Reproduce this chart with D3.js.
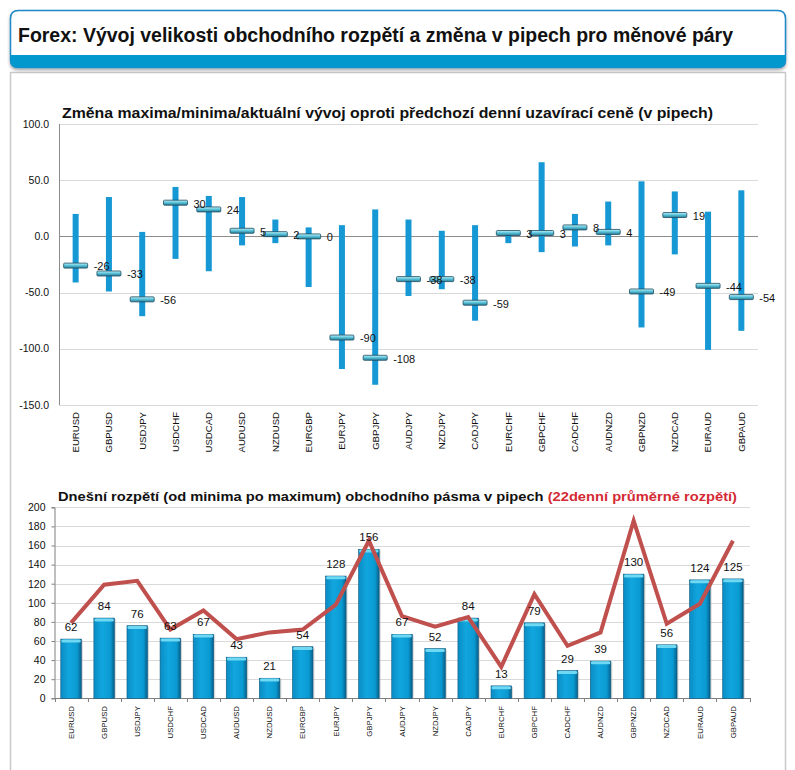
<!DOCTYPE html>
<html><head><meta charset="utf-8">
<script src="https://cdn.jsdelivr.net/npm/d3@7"></script>
<style>
body{margin:0;background:#fff;}
svg{display:block;font-family:"Liberation Sans",Arial,sans-serif;}
</style></head>
<body><svg id="c" width="795" height="770"></svg>
<script>
const pairs = ["EURUSD","GBPUSD","USDJPY","USDCHF","USDCAD","AUDUSD","NZDUSD","EURGBP","EURJPY","GBPJPY","AUDJPY","NZDJPY","CADJPY","EURCHF","GBPCHF","CADCHF","AUDNZD","GBPNZD","NZDCAD","EURAUD","GBPAUD"];
const changeMax = [20,35,4,44,36,35,15,8,10,24,15,5,10,5,66,20,31,49,40,22,41];
const changeMin = [-41,-49,-71,-20,-31,-8,-6,-45,-118,-132,-53,-47,-75,-6,-14,-9,-8,-81,-16,-101,-84];
const changeNow = [-26,-33,-56,30,24,5,2,0,-90,-108,-38,-38,-59,3,3,8,4,-49,19,-44,-54];
const rangeToday = [62,84,76,63,67,43,21,54,128,156,67,52,84,13,79,29,39,130,56,124,125];
const range22 = [79,119,123,72,92,62,69,72,98,165,86,75,85,33,109,55,69,186,78,99,165];
const topTicks = [100,50,0,-50,-100,-150];
const botTicks = [0,20,40,60,80,100,120,140,160,180,200];

const svg = d3.select("#c");
const defs = svg.append("defs");
// gradients
const mg = defs.append("linearGradient").attr("id","mk").attr("x1",0).attr("y1",0).attr("x2",0).attr("y2",1);
mg.append("stop").attr("offset","0%").attr("stop-color","#c8f4fa");
mg.append("stop").attr("offset","45%").attr("stop-color","#5cc6dc");
mg.append("stop").attr("offset","100%").attr("stop-color","#2a7d98");
const bg = defs.append("linearGradient").attr("id","bar").attr("x1",0).attr("y1",0).attr("x2",1).attr("y2",0);
bg.append("stop").attr("offset","0%").attr("stop-color","#0a8cc4");
bg.append("stop").attr("offset","40%").attr("stop-color","#12a6de");
bg.append("stop").attr("offset","80%").attr("stop-color","#0a9ad2");
bg.append("stop").attr("offset","100%").attr("stop-color","#075f8a");
const sh = defs.append("filter").attr("id","sh").attr("x","-5%").attr("y","-20%").attr("width","110%").attr("height","150%");
sh.append("feDropShadow").attr("dx",0).attr("dy",2).attr("stdDeviation",1.5).attr("flood-color","#000").attr("flood-opacity",0.35);

// panel
svg.append("rect").attr("x",10.5).attr("y",72.5).attr("width",775).attr("height",710)
  .attr("fill","#fff").attr("stroke","#c8c8c8").attr("stroke-width",1.5);

// header
const hdr = svg.append("g");
hdr.append("path").attr("filter","url(#sh)")
  .attr("d","M10.5,18.5 Q10.5,10.5 18.5,10.5 L777.5,10.5 Q785.5,10.5 785.5,18.5 L785.5,60 Q785.5,67.5 778,67.5 L18,67.5 Q10.5,67.5 10.5,60 Z")
  .attr("fill","#fff").attr("stroke","#1b88c6").attr("stroke-width",1.5);
hdr.append("path")
  .attr("d","M10.5,55 L785.5,55 L785.5,60 Q785.5,67.5 778,67.5 L18,67.5 Q10.5,67.5 10.5,60 Z")
  .attr("fill","#0398cd");
hdr.append("text").attr("x",18).attr("y",42).attr("font-size",20).attr("font-weight","bold")
  .attr("fill","#111").attr("textLength",715).attr("lengthAdjust","spacingAndGlyphs")
  .text("Forex: Vývoj velikosti obchodního rozpětí a změna v pipech pro měnové páry");

// ---------- top chart ----------
const x1 = d3.scaleBand().domain(pairs).range([59,758]);
const y1 = d3.scaleLinear().domain([-150,100]).range([405,124]);
const g1 = svg.append("g");
g1.append("text").attr("x",62).attr("y",118).attr("font-size",14).attr("font-weight","bold")
  .attr("fill","#111").attr("textLength",651).attr("lengthAdjust","spacingAndGlyphs")
  .text("Změna maxima/minima/aktuální vývoj oproti předchozí denní uzavírací ceně (v pipech)");
g1.append("g").selectAll("line").data(topTicks).join("line")
  .attr("x1",59).attr("x2",758).attr("y1",d=>Math.round(y1(d))+0.5).attr("y2",d=>Math.round(y1(d))+0.5)
  .attr("stroke",d=>d===0?"#8c8c8c":"#d9d9d9").attr("stroke-width",1);
g1.append("line").attr("x1",59.5).attr("x2",59.5).attr("y1",124).attr("y2",405).attr("stroke","#8c8c8c");
g1.append("g").selectAll("text").data(topTicks).join("text")
  .attr("x",49).attr("y",d=>y1(d)).attr("dy","0.35em").attr("text-anchor","end")
  .attr("font-size",10.5).attr("fill","#111").text(d=>d.toFixed(1));
const cx1 = d=>x1(d)+x1.bandwidth()/2;
g1.append("g").selectAll("rect").data(pairs).join("rect")
  .attr("x",d=>cx1(d)-3).attr("width",6)
  .attr("y",(d,i)=>y1(changeMax[i])).attr("height",(d,i)=>y1(changeMin[i])-y1(changeMax[i]))
  .attr("fill","#1598d4");
g1.append("g").selectAll("rect").data(pairs).join("rect")
  .attr("x",d=>cx1(d)-12).attr("width",24)
  .attr("y",(d,i)=>y1(changeNow[i])-2.5).attr("height",5).attr("rx",1)
  .attr("fill","url(#mk)").attr("stroke","#1d4a5e").attr("stroke-width",0.8);
g1.append("g").selectAll("text").data(pairs).join("text")
  .attr("x",d=>cx1(d)+18).attr("y",(d,i)=>y1(changeNow[i])+1).attr("dy","0.35em")
  .attr("font-size",11).attr("fill","#111").text((d,i)=>changeNow[i]);
g1.append("g").selectAll("text").data(pairs).join("text")
  .attr("transform",d=>`translate(${cx1(d)},412) rotate(-90)`).attr("dy","0.35em")
  .attr("text-anchor","end").attr("font-size",9.6).attr("fill","#111").text(d=>d);

// ---------- bottom chart ----------
const x2 = d3.scaleBand().domain(pairs).range([54.5,749.5]).paddingInner(0.38).paddingOuter(0.19);
const xb = d3.scaleBand().domain(pairs).range([54.5,749.5]);
const y2 = d3.scaleLinear().domain([0,200]).range([698.3,507.3]);
const g2 = svg.append("g");
const t2 = g2.append("text").attr("x",58).attr("y",501).attr("font-size",13.5).attr("font-weight","bold")
  .attr("textLength",679).attr("lengthAdjust","spacingAndGlyphs");
t2.append("tspan").attr("fill","#111").text("Dnešní rozpětí (od minima po maximum) obchodního pásma v pipech ");
t2.append("tspan").attr("fill","#d42a34").text("(22denní průměrné rozpětí)");
g2.append("g").selectAll("line").data(botTicks.filter(d=>d>0)).join("line")
  .attr("x1",54.5).attr("x2",750).attr("y1",d=>Math.round(y2(d))+0.5).attr("y2",d=>Math.round(y2(d))+0.5)
  .attr("stroke","#d9d9d9");
const ax = g2.append("g").attr("transform","translate(54.5,0)")
  .call(d3.axisLeft(y2).tickValues(botTicks).tickSize(3).tickPadding(6));
ax.select(".domain").attr("stroke","#7f7f7f");
ax.selectAll(".tick line").attr("stroke","#7f7f7f");
ax.selectAll(".tick text").attr("font-size",10.5).attr("fill","#111").attr("font-family","Liberation Sans, Arial, sans-serif");
g2.append("line").attr("x1",54.5).attr("x2",750).attr("y1",698.5).attr("y2",698.5).attr("stroke","#7f7f7f");
g2.append("g").selectAll("line").data(pairs.concat(["_end"])).join("line")
  .attr("x1",(d,i)=>Math.round(54.5+i*xb.step())+0.5).attr("x2",(d,i)=>Math.round(54.5+i*xb.step())+0.5)
  .attr("y1",698).attr("y2",702).attr("stroke","#7f7f7f");
const bars = g2.append("g").selectAll("g").data(pairs).join("g");
bars.append("rect").attr("x",d=>x2(d)+1.5).attr("width",x2.bandwidth())
  .attr("y",(d,i)=>y2(rangeToday[i])+1).attr("height",(d,i)=>698.3-y2(rangeToday[i])-1)
  .attr("fill","#bdbdbd").attr("opacity",0.6);
bars.append("rect").attr("x",d=>x2(d)).attr("width",x2.bandwidth())
  .attr("y",(d,i)=>y2(rangeToday[i])).attr("height",(d,i)=>698.3-y2(rangeToday[i]))
  .attr("fill","url(#bar)").attr("stroke","#0b587e").attr("stroke-width",0.6);
bars.append("rect").attr("x",d=>x2(d)+0.5).attr("width",x2.bandwidth()-1)
  .attr("y",(d,i)=>y2(rangeToday[i])+0.3).attr("height",3).attr("rx",1.5)
  .attr("fill","#6fd8f3");
g2.append("path").datum(range22)
  .attr("d",d3.line().x((d,i)=>xb(pairs[i])+xb.bandwidth()/2).y(d=>y2(d)))
  .attr("fill","none").attr("stroke","#c0504d").attr("stroke-width",4).attr("stroke-linejoin","miter");
g2.append("g").selectAll("text").data(pairs).join("text")
  .attr("x",d=>x2(d)+x2.bandwidth()/2).attr("y",(d,i)=>y2(rangeToday[i])-8)
  .attr("text-anchor","middle").attr("font-size",11.5).attr("fill","#111").text((d,i)=>rangeToday[i]);
g2.append("g").selectAll("text").data(pairs).join("text")
  .attr("transform",d=>`translate(${xb(d)+xb.bandwidth()/2},706) rotate(-90)`).attr("dy","0.35em")
  .attr("text-anchor","end").attr("font-size",7.8).attr("fill","#111").text(d=>d);
</script></body></html>
